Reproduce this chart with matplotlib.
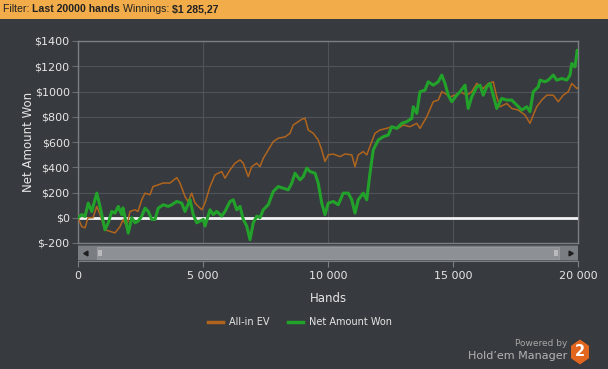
import matplotlib
matplotlib.use("Agg")
import matplotlib.pyplot as plt
from matplotlib.patches import Rectangle, Polygon
from matplotlib.transforms import IdentityTransform

# ---- data ----
ev_hands = [0, 150, 280, 400, 600, 750, 880, 1080, 1280, 1480, 1680, 1800, 1950, 2080, 2280, 2400,
            2550, 2680, 2880, 3000, 3200, 3400, 3680, 3950, 4080, 4280, 4400, 4550, 4680, 4950,
            5080, 5280, 5480, 5750, 5880, 6080, 6280, 6480, 6610, 6810, 6950, 7150, 7280, 7410,
            7610, 7810, 8010, 8280, 8480, 8610, 8810, 8950, 9080, 9210, 9410, 9610, 9750, 9880,
            10010, 10210, 10480, 10680, 10950, 11080, 11210, 11410, 11550, 11750, 11880, 12080,
            12350, 12550, 12810, 13010, 13280, 13550, 13680, 13950, 14210, 14410, 14550, 14680,
            14880, 15080, 15280, 15550, 15750, 15950, 16210, 16410, 16610, 16750, 16880, 17150,
            17350, 17610, 17880, 18080, 18210, 18350, 18550, 18750, 19010, 19210, 19410, 19610,
            19750, 19950, 20000]
ev_vals = [0, -70, -80, 0, 0, 90, 25, -95, -108, -120, -70, -15, -70, 50, 63, 50,
           142, 195, 182, 247, 260, 275, 275, 318, 275, 168, 128, 195, 116, 63,
           116, 247, 340, 366, 313, 379, 432, 458, 432, 326, 405, 432, 405, 471,
           537, 603, 630, 640, 669, 735, 761, 780, 788, 695, 669, 616, 537, 445,
           498, 505, 484, 505, 498, 405, 498, 524, 498, 603, 669, 695,
           708, 721, 708, 735, 721, 748, 708, 800, 919, 932, 998, 985,
           958, 971, 998, 971, 998, 1064, 1024, 1064, 1077, 958, 879, 905,
           866, 853, 814, 748, 814, 879, 932, 971, 971, 919, 971, 998,
           1064, 1024, 1030]

won_hands = [0, 150, 280, 410, 550, 750, 880, 1080, 1210, 1350, 1480, 1610, 1750, 1800, 2010,
             2150, 2280, 2410, 2550, 2680, 2810, 2950, 3080, 3210, 3410, 3610, 3750, 3950,
             4150, 4280, 4480, 4610, 4750, 5010, 5080, 5280, 5410, 5550, 5750, 5880, 6080,
             6210, 6350, 6480, 6610, 6750, 6880, 7010, 7150, 7280, 7410, 7610, 7810, 8010,
             8210, 8410, 8550, 8680, 8880, 9010, 9150, 9280, 9480, 9610, 9750, 9880, 10010,
             10210, 10410, 10610, 10810, 10950, 11080, 11210, 11410, 11550, 11680, 11810,
             12010, 12210, 12410, 12550, 12750, 12950, 13150, 13350, 13410, 13550, 13680,
             13880, 14010, 14210, 14410, 14550, 14680, 14810, 14950, 15150, 15280, 15480,
             15610, 15750, 15950, 16080, 16210, 16350, 16480, 16610, 16750, 16950, 17150,
             17350, 17550, 17750, 17950, 18080, 18210, 18410, 18480, 18680, 18810, 19010,
             19150, 19350, 19550, 19680, 19750, 19880, 19970, 20000]
won_vals = [0, 25, 10, 116, 50, 195, 90, -95, -40, 50, 37, 90, 25, 78, -121,
            0, -40, -26, 13, 76, 50, -13, -13, 76, 103, 90, 103, 129,
            116, 50, 142, 25, -40, -13, -66, 63, 25, 50, 13, 50, 129,
            142, 63, 90, -13, -66, -174, -40, 13, 0, 63, 103, 208, 247,
            234, 221, 274, 353, 300, 326, 393, 366, 353, 274, 116, 25, 116,
            129, 103, 195, 195, 142, 37, 142, 195, 142, 353, 537,
            616, 642, 655, 721, 708, 748, 761, 787, 879, 827, 998,
            1011, 1077, 1050, 1077, 1130, 1064, 971, 919, 971, 998, 1050,
            866, 958, 1037, 1050, 971, 1037, 1064, 971, 866, 945, 932,
            932, 892, 853, 879, 840, 998, 1037, 1090, 1077, 1090, 1130,
            1090, 1103, 1090, 1130, 1222, 1195, 1327, 1285]

y_ticks = [-200, 0, 200, 400, 600, 800, 1000, 1200, 1400]
x_ticks = [0, 5000, 10000, 15000, 20000]
x_labels = ["0", "5 000", "10 000", "15 000", "20 000"]

BG = "#373a3e"
GRID = "#50545a"
TXT = "#e6e6e6"
ORANGE = "#b0651e"
GREEN = "#22a22a"

W, H = 608, 369
fig = plt.figure(figsize=(W / 100, H / 100), dpi=100, facecolor=BG)

def fx(px):
    return px / W

def fy(py):
    return 1 - py / H

# header bar
fig.patches.append(Rectangle((0, fy(19)), 1, 19 / H, transform=fig.transFigure,
                             facecolor="#f2ad4a", edgecolor="none"))
hdr_y = fy(9.5)
fig.canvas.draw()
r = fig.canvas.get_renderer()
x = fx(3)
for s, w in [("Filter: ", "normal"), ("Last 20000 hands ", "bold"), ("Winnings: ", "normal"), ("$1 285,27", "bold")]:
    tt = fig.text(x, hdr_y, s, fontsize=7.6, color="#222222", va="center", fontweight=w,
                  family="Liberation Sans")
    bb = tt.get_window_extent(renderer=r)
    x += bb.width / W

# main axes
ax = fig.add_axes([fx(78), fy(243), (578 - 78) / W, (243 - 41) / H])
ax.set_facecolor(BG)
ax.set_xlim(0, 20000)
ax.set_ylim(-200, 1400)
ax.set_yticks(y_ticks)
ax.set_yticklabels([f"${v}" for v in y_ticks], color=TXT, fontsize=8)
ax.set_xticks(x_ticks)
ax.tick_params(axis="x", length=0, labelbottom=False)
ax.tick_params(axis="y", length=4, color="#6a6e72", pad=2)
ax.grid(True, color=GRID, linewidth=0.8)
for sp in ax.spines.values():
    sp.set_color("#7b7e82")
    sp.set_linewidth(1)
ax.set_ylabel("Net Amount Won", color=TXT, fontsize=8.5)
ax.yaxis.set_label_coords((35 - 78) / 500, 0.5)

ax.axhline(0, color="#f2f2f2", linewidth=2, zorder=3)
l1, = ax.plot(ev_hands, ev_vals, color=ORANGE, linewidth=1.1, zorder=4, label="All-in EV")
l2, = ax.plot(won_hands, won_vals, color=GREEN, linewidth=2.2, zorder=5, label="Net Amount Won")

# scrollbar + x axis
ax2 = fig.add_axes([fx(78), fy(261), (578 - 78) / W, (261 - 245) / H])
ax2.set_xlim(0, 20000)
ax2.set_ylim(0, 1)
ax2.set_facecolor("#55595d")
ax2.set_yticks([])
ax2.set_xticks(x_ticks)
ax2.set_xticklabels(x_labels, color=TXT, fontsize=8)
ax2.tick_params(axis="x", length=4, color="#7b7e82", pad=3)
for k, sp in ax2.spines.items():
    sp.set_visible(k == "bottom")
ax2.spines["bottom"].set_color("#7b7e82")
ax2.add_patch(Rectangle((0, 0.08), 20000, 0.84, facecolor="#7a7e82", edgecolor="none"))
ax2.add_patch(Rectangle((760, 0.14), 18480, 0.72, facecolor="#8d9094", edgecolor="#9a9da0", linewidth=0.6))
ax2.add_patch(Rectangle((800, 0.32), 160, 0.36, facecolor="#b8babc", edgecolor="none"))
ax2.add_patch(Rectangle((19040, 0.32), 160, 0.36, facecolor="#b8babc", edgecolor="none"))
ax2.plot([330], [0.5], marker=(3, 0, 90), color="#1e1e1e", markersize=4)
ax2.plot([19670], [0.5], marker=(3, 0, -90), color="#1e1e1e", markersize=4)
ax2.set_xlabel("Hands", color=TXT, fontsize=8.5, labelpad=8)

# legend
leg = fig.legend(handles=[l1, l2], loc="center", bbox_to_anchor=(fx(300), fy(322)), ncol=2,
                 frameon=False, fontsize=7, labelcolor=TXT, handlelength=1.5, handletextpad=0.6,
                 columnspacing=2.0)
for lh in leg.get_lines():
    lh.set_linewidth(2.5)

# branding
fig.text(fx(567), fy(343), "Powered by", fontsize=6.5, color="#a8a8a8", ha="right", va="center")
fig.text(fx(567), fy(356), "Hold\u2019em Manager", fontsize=8, color="#b4b4b4", ha="right", va="center")
cx, cy, hw, hh = 580, H - 352, 9, 12.5
hexa = Polygon([(cx, cy + hh), (cx + hw, cy + hh / 2), (cx + hw, cy - hh / 2), (cx, cy - hh),
                (cx - hw, cy - hh / 2), (cx - hw, cy + hh / 2)], closed=True,
               transform=IdentityTransform(), facecolor="#e2661f", edgecolor="none")
fig.patches.append(hexa)
fig.text(fx(580), fy(352), "2", fontsize=10.5, color="white", fontweight="bold", ha="center", va="center")

fig.savefig("out.png", dpi=100, facecolor=BG)
